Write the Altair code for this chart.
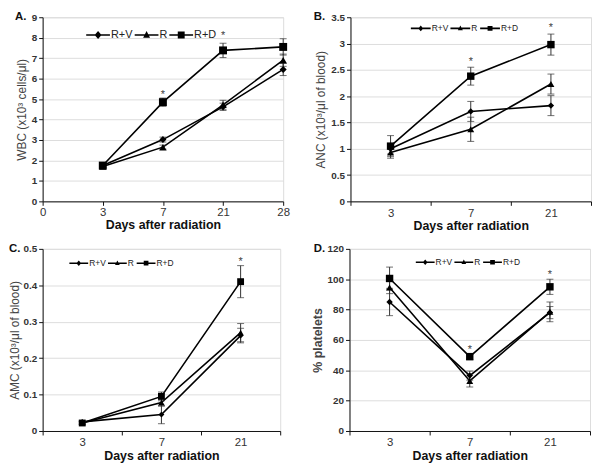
import altair as alt
import pandas as pd

FONT = "Liberation Sans"
series = ["R+V", "R", "R+D"]

# ---------------- Panel A: WBC ----------------
a_axis_days = ["0", "3", "7", "21", "28"]
a_days = ["3", "7", "21", "28"]
a_rv = [1.75, 3.02, 4.62, 6.45]
a_r = [1.70, 2.65, 4.72, 6.90]
a_rd = [1.75, 4.85, 7.38, 7.55]
a_rv_err = [0.08, 0.12, 0.18, 0.30]
a_r_err = [0.08, 0.10, 0.22, 0.30]
a_rd_err = [0.10, 0.20, 0.35, 0.40]
a_star_days = ["7", "21"]
a_star_vals = [5.32, 8.25]
a_yticks = [0, 1, 2, 3, 4, 5, 6, 7, 8, 9]

# ---------------- Panel B: ANC ----------------
b_days = ["3", "7", "21"]
b_rv = [1.00, 1.71, 1.82]
b_r = [0.93, 1.37, 2.23]
b_rd = [1.05, 2.38, 2.98]
b_rv_err = [0.10, 0.19, 0.19]
b_r_err = [0.11, 0.23, 0.19]
b_rd_err = [0.20, 0.17, 0.20]
b_star_days = ["7", "21"]
b_star_vals = [2.71, 3.35]
b_yticks = [0, 0.5, 1, 1.5, 2, 2.5, 3, 3.5]

# ---------------- Panel C: AMC ----------------
c_days = ["3", "7", "21"]
c_rv = [0.025, 0.045, 0.262]
c_r = [0.022, 0.078, 0.270]
c_rd = [0.022, 0.095, 0.410]
c_rv_err = [0.003, 0.025, 0.020]
c_r_err = [0.003, 0.010, 0.025]
c_rd_err = [0.004, 0.012, 0.044]
c_star_days = ["21"]
c_star_vals = [0.472]
c_yticks = [0, 0.1, 0.2, 0.3, 0.4, 0.5]

# ---------------- Panel D: platelets ----------------
d_days = ["3", "7", "21"]
d_rv = [85.0, 36.5, 78.0]
d_r = [94.5, 33.0, 78.5]
d_rd = [100.5, 49.0, 95.0]
d_rv_err = [9.0, 3.0, 4.0]
d_r_err = [4.0, 4.0, 6.5]
d_rd_err = [7.5, 2.0, 5.0]
d_star_days = ["7", "21"]
d_star_vals = [55.5, 105.0]
d_yticks = [0, 20, 40, 60, 80, 100, 120]


def make_df(days, vals, errs):
    rows = []
    for s, v, e in zip(series, vals, errs):
        for d, y, err in zip(days, v, e):
            rows.append({"day": d, "series": s, "value": y, "lo": y - err, "hi": y + err})
    return pd.DataFrame(rows)


def legend_paths(m, t):
    bar = f"M-1,{-t}H1V{t}H-1Z"
    return [
        bar + f"M0,{-m*1.15}L{m},0L0,{m*1.15}L{-m},0Z",
        bar + f"M0,{-m*1.15}L{m},{m*0.8}L{-m},{m*0.8}Z",
        bar + f"M{-m},{-m}H{m}V{m}H{-m}Z",
    ]


def panel(df, star_days, star_vals, axis_days, band, yticks, yfmt, ytitle, ytitle_bold,
          letter, w, h, leg_x, leg_y, leg_len, leg_font, marker_m, msize, letter_dx,
          ytitle_pad):
    if band:
        xscale = alt.Scale(type="band", domain=axis_days, paddingInner=0, paddingOuter=0)
        xaxis = alt.Axis(title="Days after radiation", labelAngle=0, tickBand="extent",
                         labelFontSize=11.5, labelColor="#333", labelFont=FONT,
                         titleFont=FONT, titleFontSize=12.5, titleFontWeight="bold",
                         titleColor="#111", titlePadding=1, domainColor="#111",
                         tickColor="#111", tickSize=4, labelPadding=2)
        x = alt.X("day:O", scale=xscale, axis=xaxis, bandPosition=0.5)
    else:
        xscale = alt.Scale(type="point", domain=axis_days, padding=0)
        xaxis = alt.Axis(title="Days after radiation", labelAngle=0,
                         labelFontSize=11.5, labelColor="#333", labelFont=FONT,
                         titleFont=FONT, titleFontSize=12.5, titleFontWeight="bold",
                         titleColor="#111", titlePadding=1, domainColor="#111",
                         tickColor="#111", tickSize=4, labelPadding=1)
        x = alt.X("day:O", scale=xscale, axis=xaxis)

    yaxis = alt.Axis(title=ytitle, values=yticks, format=yfmt, labelFontSize=10,
                     labelFontWeight="bold", labelColor="#333", labelFont=FONT,
                     titleFont=FONT, titleFontSize=12 if not ytitle_bold else 12.5,
                     titleFontWeight="bold" if ytitle_bold else "normal",
                     titleColor="#444", titlePadding=ytitle_pad, domainColor="#111",
                     tickColor="#111", tickSize=4, labelPadding=2)
    yscale = alt.Scale(domain=[yticks[0], yticks[-1]], nice=False, zero=True)
    y = alt.Y("value:Q", scale=yscale, axis=yaxis)

    base = alt.Chart(df)
    lines = base.mark_line(color="black", strokeWidth=1.6).encode(
        x=x, y=y, detail="series:N")
    rules = base.mark_rule(color="#333", strokeWidth=1).encode(
        x=x, y=alt.Y("lo:Q", scale=yscale, axis=yaxis), y2="hi:Q")
    cap_lo = base.mark_tick(color="#333", size=7, thickness=1).encode(
        x=x, y=alt.Y("lo:Q", scale=yscale, axis=yaxis))
    cap_hi = base.mark_tick(color="#333", size=7, thickness=1).encode(
        x=x, y=alt.Y("hi:Q", scale=yscale, axis=yaxis))
    points = base.mark_point(filled=True, color="black", opacity=1).encode(
        x=x, y=y,
        shape=alt.Shape("series:N", scale=alt.Scale(domain=series,
                        range=["diamond", "triangle-up", "square"]), legend=None),
        size=alt.Size("series:N", scale=alt.Scale(domain=series, range=msize), legend=None),
    )
    stars_df = pd.DataFrame({"day": star_days, "value": star_vals, "label": ["*"] * len(star_days)})
    stars = alt.Chart(stars_df).mark_text(font=FONT, fontSize=11, color="#444",
                                          baseline="middle", dy=3).encode(
        x=x, y=y, text="label:N")
    letter_df = pd.DataFrame({"t": [letter]})
    letter_mark = alt.Chart(letter_df).mark_text(
        font=FONT, fontSize=11.5, fontWeight="bold", color="#111",
        align="left", baseline="middle").encode(
        text="t:N", x=alt.value(letter_dx), y=alt.value(0))
    legend_layer = base.mark_point(filled=True, color="black", opacity=1).encode(
        x=x, y=y,
        shape=alt.Shape("series:N",
                        scale=alt.Scale(domain=series,
                                        range=legend_paths(marker_m, 0.8 / (leg_len / 2))),
                        legend=alt.Legend(title=None, orient="none", legendX=leg_x,
                                          legendY=leg_y, direction="horizontal",
                                          symbolSize=leg_len * leg_len,
                                          symbolStrokeWidth=0,
                                          symbolFillColor="black",
                                          symbolStrokeColor="black",
                                          symbolOpacity=1,
                                          labelFontSize=leg_font, labelFont=FONT,
                                          labelColor="#222", labelOffset=1,
                                          columnPadding=2, padding=0)),
    ).transform_filter("false")

    layered = alt.layer(lines, rules, cap_lo, cap_hi, points, stars, letter_mark,
                        legend_layer).resolve_scale(
        shape="independent", size="independent"
    ).properties(width=w, height=h)
    return layered


pa = panel(make_df(a_days, [a_rv, a_r, a_rd], [a_rv_err, a_r_err, a_rd_err]),
           a_star_days, a_star_vals, a_axis_days, False, a_yticks, "d",
           "WBC (x10³ cells/μl)", False, "A.", 243, 186, 44, 6, 24, 11, 0.29,
           [50, 64, 64], -28, 3)
pb = panel(make_df(b_days, [b_rv, b_r, b_rd], [b_rv_err, b_r_err, b_rd_err]),
           b_star_days, b_star_vals, b_days, True, b_yticks, "~g",
           "ANC (x10³/μl of blood)", False, "B.", 243, 186, 61, 1, 20, 8.5, 0.25,
           [42, 56, 56], -37, 3)
pc = panel(make_df(c_days, [c_rv, c_r, c_rd], [c_rv_err, c_r_err, c_rd_err]),
           c_star_days, c_star_vals, c_days, True, c_yticks, "~g",
           "AMC (x10³/μl of blood)", False, "C.", 240, 184, 27, 5, 19, 8.5, 0.25,
           [36, 48, 48], -34, 1)
pd_ = panel(make_df(d_days, [d_rv, d_r, d_rd], [d_rv_err, d_r_err, d_rd_err]),
            d_star_days, d_star_vals, d_days, True, d_yticks, "d",
            "% platelets", True, "D.", 243, 184, 67, 4, 19, 8.5, 0.25,
            [42, 56, 56], -36, 3)

row1 = alt.hconcat(pa, pb, spacing=23).resolve_scale(
    x="independent", y="independent", shape="independent", size="independent")
row2 = alt.hconcat(pc, pd_, spacing=29).resolve_scale(
    x="independent", y="independent", shape="independent", size="independent")
chart = alt.vconcat(row1, row2, spacing=9).resolve_scale(
    x="independent", y="independent", shape="independent", size="independent"
).properties(padding={"left": 0, "top": 0, "right": 0, "bottom": 0}).configure_view(
    stroke=None
).configure_axis(grid=False).configure(background="white")

chart.save("out.html", embed_options={"renderer": "svg", "actions": False})
